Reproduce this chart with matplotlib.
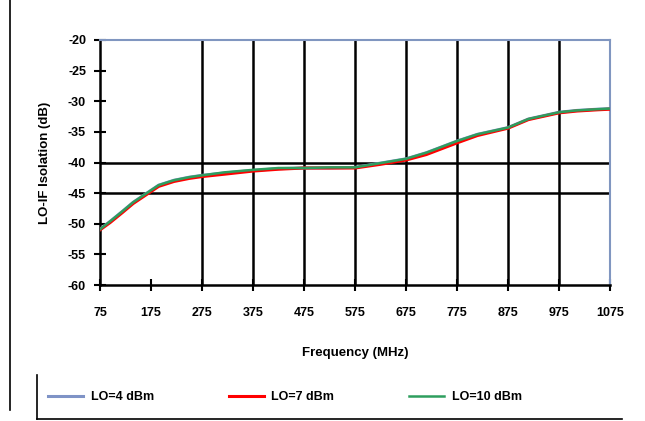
import numpy as np
import matplotlib.pyplot as plt
from matplotlib.lines import Line2D

plt.rcParams['font.family'] = ['Liberation Sans', 'DejaVu Sans']
plt.rcParams['font.weight'] = 'bold'
plt.rcParams['axes.labelweight'] = 'bold'

freq = [75, 95, 120, 140, 165, 190, 220, 250, 275, 320, 375, 425, 475, 525, 575,
        625, 675, 715, 775, 815, 875, 915, 975, 1010, 1050, 1075]
lo4 = [-50.9, -49.6, -47.9, -46.5, -45.1, -43.7, -42.9, -42.4, -42.1, -41.7, -41.3,
       -41.0, -40.9, -40.9, -40.8, -40.1, -39.4, -38.4, -36.5, -35.4, -34.3, -32.9,
       -31.8, -31.5, -31.3, -31.2]
lo7 = [-51.0, -49.8, -48.1, -46.7, -45.3, -43.9, -43.1, -42.6, -42.3, -41.9, -41.4,
       -41.1, -40.9, -40.9, -40.9, -40.3, -39.6, -38.7, -36.8, -35.6, -34.4, -33.0,
       -31.9, -31.6, -31.4, -31.3]
lo10 = [-50.9, -49.6, -47.9, -46.5, -45.1, -43.7, -42.9, -42.4, -42.1, -41.6, -41.2,
        -40.9, -40.9, -40.8, -40.8, -40.1, -39.4, -38.4, -36.5, -35.4, -34.3, -32.9,
        -31.8, -31.5, -31.3, -31.2]

xticks = [75, 175, 275, 375, 475, 575, 675, 775, 875, 975, 1075]
vgrid = [275, 375, 475, 575, 675, 775, 875, 975]
yticks = [-60, -55, -50, -45, -40, -35, -30, -25, -20]
hgrid = [-45, -40]

fig = plt.figure(figsize=(6.45, 4.21), dpi=100)
ax = fig.add_axes([100 / 645, 1 - 285 / 421, 510 / 645, 245 / 421])

for g in vgrid:
    ax.axvline(g, color='black', lw=1.8, zorder=1)
for g in hgrid:
    ax.axhline(g, color='black', lw=1.8, zorder=1)

ax.plot(freq, lo4, color='#7f93c6', lw=2.2, label='LO=4 dBm', zorder=3)
ax.plot(freq, lo7, color='#ff0000', lw=2.2, label='LO=7 dBm', zorder=4)
ax.plot(freq, lo10, color='#2e9e5e', lw=1.8, label='LO=10 dBm', zorder=5)

ax.set_xlim(75, 1075)
ax.set_ylim(-60, -20)
ax.set_xticks(xticks)
ax.set_xticklabels([str(t) for t in xticks])
ax.set_yticks(yticks)
ax.set_yticklabels([str(t) for t in yticks])
ax.tick_params(direction='inout', length=8, width=1.5, labelsize=9)
ax.tick_params(axis='x', pad=12)
ax.tick_params(axis='y', pad=6)

ax.spines['left'].set_linewidth(1.8)
ax.spines['bottom'].set_linewidth(1.8)
ax.spines['top'].set_color('#8096c0')
ax.spines['right'].set_color('#8096c0')
ax.spines['top'].set_linewidth(1.5)
ax.spines['right'].set_linewidth(1.5)

ax.set_xlabel('Frequency (MHz)', fontsize=9.5, labelpad=20)
ax.set_ylabel('LO-IF Isolation (dB)', fontsize=9.5, labelpad=12)

handles, labels = ax.get_legend_handles_labels()
fig.legend(handles, labels, loc='center', bbox_to_anchor=(285 / 645, 1 - 397 / 421),
           ncol=3, frameon=False, fontsize=9, handlelength=2.8, handletextpad=0.6,
           columnspacing=6)

# outer frame pieces
fig.add_artist(Line2D([10 / 645, 10 / 645], [1 - 410 / 421, 1], color='black', lw=1.2))
fig.add_artist(Line2D([37 / 645, 37 / 645], [1 - 419 / 421, 1 - 375 / 421], color='black', lw=1.2))
fig.add_artist(Line2D([37 / 645, 622 / 645], [1 - 419 / 421, 1 - 419 / 421], color='black', lw=1.2))

fig.savefig('out.png', dpi=100)
